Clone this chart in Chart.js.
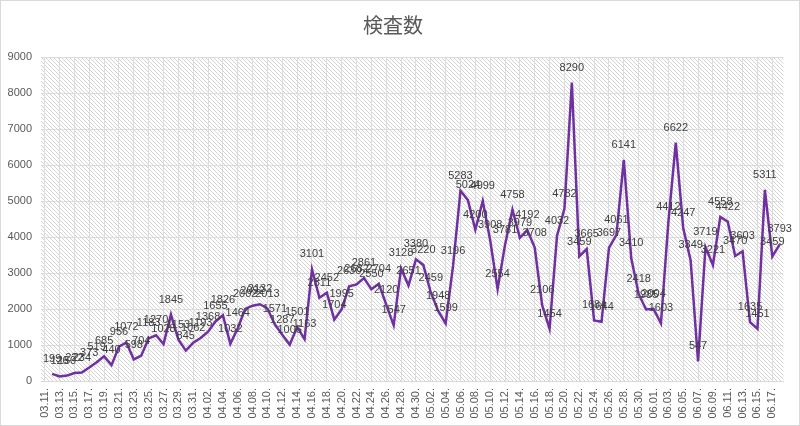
<!DOCTYPE html>
<html>
<head>
<meta charset="utf-8">
<script src="https://cdn.jsdelivr.net/npm/chart.js@4/dist/chart.umd.min.js"></script>
<style>
html,body{margin:0;padding:0;background:#fff;}
#wrap{width:800px;height:426px;position:relative;}
</style>
</head>
<body>
<div id="wrap"><canvas id="c"></canvas></div>
<script>
const chartTitle = "検査数";
const dates = [
"03.11.","03.12.","03.13.","03.14.","03.15.","03.16.","03.17.","03.18.","03.19.","03.20.",
"03.21.","03.22.","03.23.","03.24.","03.25.","03.26.","03.27.","03.28.","03.29.","03.30.","03.31.",
"04.01.","04.02.","04.03.","04.04.","04.05.","04.06.","04.07.","04.08.","04.09.","04.10.",
"04.11.","04.12.","04.13.","04.14.","04.15.","04.16.","04.17.","04.18.","04.19.","04.20.",
"04.21.","04.22.","04.23.","04.24.","04.25.","04.26.","04.27.","04.28.","04.29.","04.30.",
"05.01.","05.02.","05.03.","05.04.","05.05.","05.06.","05.07.","05.08.","05.09.","05.10.",
"05.11.","05.12.","05.13.","05.14.","05.15.","05.16.","05.17.","05.18.","05.19.","05.20.",
"05.21.","05.22.","05.23.","05.24.","05.25.","05.26.","05.27.","05.28.","05.29.","05.30.","05.31.",
"06.01.","06.02.","06.03.","06.04.","06.05.","06.06.","06.07.","06.08.","06.09.","06.10.",
"06.11.","06.12.","06.13.","06.14.","06.15.","06.16.","06.17.","06.18."
];
const tests = [
null,199,126,150,222,234,373,519,685,440,956,
1072,598,704,1183,1270,1028,1845,1153,845,1062,
1193,1368,1655,1826,1032,1464,2002,2092,2132,2013,
1571,1287,1006,1501,1163,3101,2311,2452,1704,1995,
2630,2682,2861,2550,2704,2120,1547,3128,2651,3380,
3220,2459,1948,1599,3196,5283,5024,4200,4999,3908,
2554,3781,4758,3979,4192,3708,2106,1454,4032,4782,
8290,3459,3665,1684,1644,3697,4061,6141,3410,2418,
1985,2004,1603,4412,6622,4247,3349,547,3719,3221,
4558,4422,3470,3603,1635,1451,5311,3459,3793
];
const yMin = 0, yMax = 9000, yStep = 1000;

function makePattern(ctx){
  const p = document.createElement('canvas');
  p.width = 4; p.height = 4;
  const g = p.getContext('2d');
  g.fillStyle = '#ffffff'; g.fillRect(0,0,4,4);
  g.fillStyle = '#d4d4d4';
  for(let i=0;i<4;i++){ g.fillRect(i,i,1,1); }
  return ctx.createPattern(p,'repeat');
}

const bgPlugin = {
  id:'bg',
  beforeDraw(chart){
    const {ctx, chartArea:a, width, height} = chart;
    ctx.save();
    ctx.fillStyle = '#ffffff';
    ctx.fillRect(0,0,width,height);
    ctx.fillStyle = makePattern(ctx);
    ctx.fillRect(a.left, a.top, a.right-a.left, a.bottom-a.top);
    ctx.restore();
  },
  afterDraw(chart){
    const {ctx, width, height} = chart;
    ctx.save();
    ctx.strokeStyle = '#d9d9d9';
    ctx.lineWidth = 1;
    ctx.strokeRect(0.5,0.5,width-1,height-1);
    ctx.restore();
  }
};

const labelPlugin = {
  id:'vlabels',
  afterDatasetsDraw(chart){
    const {ctx} = chart;
    const meta = chart.getDatasetMeta(0);
    ctx.save();
    ctx.font = '11px "Liberation Sans", Arial, sans-serif';
    ctx.fillStyle = '#404040';
    ctx.textAlign = 'center';
    ctx.textBaseline = 'middle';
    meta.data.forEach((pt,i)=>{
      const v = tests[i];
      if(v === null || v === undefined) return;
      ctx.fillText(String(v), pt.x, pt.y - 15);
    });
    ctx.restore();
  }
};

new Chart(document.getElementById('c'), {
  type:'line',
  data:{
    labels: dates,
    datasets:[{
      label: chartTitle,
      data: tests,
      borderColor:'#7030A0',
      borderWidth:2.5,
      pointRadius:0,
      pointHoverRadius:0,
      tension:0,
      fill:false
    }]
  },
  options:{
    responsive:true,
    maintainAspectRatio:false,
    animation:false,
    layout:{padding:{left:0,right:14,top:0,bottom:0}},
    plugins:{
      legend:{display:false},
      tooltip:{enabled:false},
      title:{
        display:true,
        text:chartTitle,
        color:'#595959',
        font:{family:'"Noto Sans CJK JP", sans-serif', size:20, weight:'normal', lineHeight:1.2},
        padding:{top:13,bottom:20}
      }
    },
    scales:{
      x:{
        offset:true,
        grid:{
          display:true,
          drawTicks:false,
          offset:false,
          color:(c)=> (c.index % 2 === 0 ? '#dcdcdc' : 'rgba(0,0,0,0)'),
          lineWidth:1
        },
        border:{display:true,color:'#d9d9d9'},
        ticks:{
          autoSkip:false,
          maxRotation:90,
          minRotation:90,
          padding:7,
          color:'#595959',
          font:{family:'"Liberation Sans", Arial, sans-serif', size:11},
          callback:function(val, idx){ return idx % 2 === 0 ? this.getLabelForValue(val) : ''; }
        },
        afterFit:(s)=>{ s.height = 45; }
      },
      y:{
        min:yMin, max:yMax,
        grid:{color:'#dcdcdc', drawTicks:false, lineWidth:1},
        border:{display:false},
        ticks:{
          stepSize:yStep,
          padding:9,
          color:'#595959',
          font:{family:'"Liberation Sans", Arial, sans-serif', size:11},
          callback:(v)=> String(v)
        },
        afterFit:(s)=>{ s.width = 41; }
      }
    }
  },
  plugins:[bgPlugin, labelPlugin]
});
</script>
</body>
</html>
